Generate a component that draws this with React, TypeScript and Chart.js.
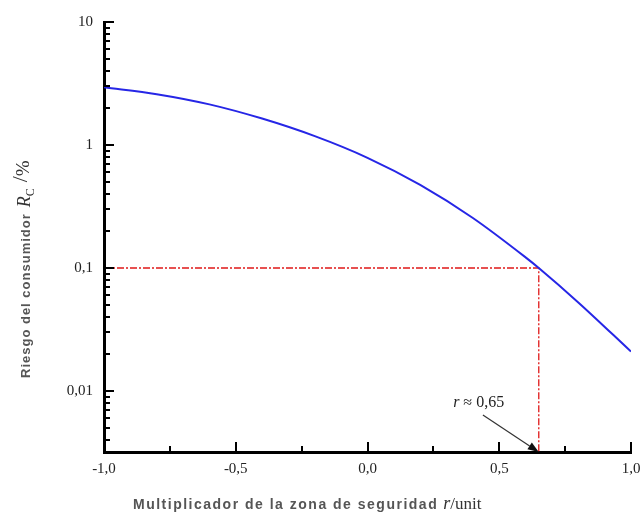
import React, { useEffect, useRef } from 'react';
import { Chart, registerables } from 'chart.js';

Chart.register(...registerables);

// Safety-zone multiplier r (unit) and consumer risk R_C (%)
const rValues = [-1.0, -0.8, -0.6, -0.4, -0.2, 0.0, 0.2, 0.4, 0.6, 0.65, 0.8, 1.0];
const rcValues = [2.95, 2.59, 2.14, 1.64, 1.18, 0.787, 0.474, 0.255, 0.122, 0.1, 0.0525, 0.0209];

const thresholdR = 0.65;
const thresholdRc = 0.1;

const xTickValues = [-1, -0.5, 0, 0.5, 1];
const xMinorValues = [-0.75, -0.25, 0.25, 0.75];
const yTickValues = [0.01, 0.1, 1, 10];

const xMin = -1;
const xMax = 1;
const yMin = 0.00319;
const yMax = 10;

const yTitleMain = 'Riesgo del consumidor';
const xTitleMain = 'Multiplicador de la zona de seguridad';
const annotationValue = ' \u2248 0,65';

export default function App() {
  const ref = useRef<HTMLCanvasElement>(null);

  useEffect(() => {
    const canvas = ref.current;
    if (!canvas) return;

    const axisTicks = {
      id: 'axisTicks',
      afterDatasetsDraw(chart: any) {
        const ctx = chart.ctx;
        const xs = chart.scales.x;
        const ys = chart.scales.y;
        const area = chart.chartArea;
        ctx.save();
        ctx.strokeStyle = '#000';
        ctx.lineWidth = 2;
        const drawX = (v: number, len: number) => {
          const px = Math.round(xs.getPixelForValue(v));
          ctx.beginPath();
          ctx.moveTo(px, area.bottom);
          ctx.lineTo(px, area.bottom - len);
          ctx.stroke();
        };
        xTickValues.forEach((v) => drawX(v, 10));
        xMinorValues.forEach((v) => drawX(v, 6));
        for (let d = -3; d <= 1; d++) {
          for (let m = 1; m <= 9; m++) {
            const v = m * Math.pow(10, d);
            if (v < yMin * 0.999 || v > yMax * 1.001) continue;
            const py = Math.round(ys.getPixelForValue(v));
            const len = m === 1 ? 10 : 6;
            ctx.beginPath();
            ctx.moveTo(area.left, py);
            ctx.lineTo(area.left + len, py);
            ctx.stroke();
          }
        }
        ctx.restore();
      },
    };

    const texts = {
      id: 'texts',
      afterDraw(chart: any) {
        const ctx = chart.ctx;
        const xs = chart.scales.x;
        const ys = chart.scales.y;

        // Y title (rotated)
        ctx.save();
        ctx.translate(30, 378);
        ctx.rotate(-Math.PI / 2);
        ctx.textBaseline = 'alphabetic';
        let t = 0;
        ctx.font = 'bold 13px "Liberation Sans", Arial, sans-serif';
        (ctx as any).letterSpacing = '1px';
        ctx.fillStyle = '#555';
        ctx.fillText(yTitleMain, t, 0);
        t += ctx.measureText(yTitleMain).width + 6;
        (ctx as any).letterSpacing = '0px';
        ctx.fillStyle = '#333';
        ctx.font = 'italic 18px "Liberation Serif", serif';
        ctx.fillText('R', t, 0);
        t += ctx.measureText('R').width;
        ctx.font = '12px "Liberation Serif", serif';
        ctx.fillText('C', t, 4);
        t += ctx.measureText('C').width + 6;
        ctx.font = '22px "Liberation Serif", serif';
        ctx.fillText('/', t, -3);
        t += ctx.measureText('/').width;
        ctx.font = '19px "Liberation Serif", serif';
        ctx.fillText('%', t, -1);
        ctx.restore();

        // X title
        ctx.save();
        let x = 133;
        const base = 509;
        ctx.font = 'bold 14px "Liberation Sans", Arial, sans-serif';
        (ctx as any).letterSpacing = '1.5px';
        ctx.fillStyle = '#555';
        ctx.fillText(xTitleMain, x, base);
        x += ctx.measureText(xTitleMain).width + 5;
        (ctx as any).letterSpacing = '0px';
        ctx.fillStyle = '#333';
        ctx.font = 'italic 18px "Liberation Serif", serif';
        ctx.fillText('r', x, base);
        x += ctx.measureText('r').width;
        ctx.font = '17px "Liberation Serif", serif';
        ctx.fillText('/unit', x, base);
        ctx.restore();

        // Annotation r ≈ 0,65 with arrow
        ctx.save();
        const tx = xs.getPixelForValue(0.325);
        const ty = ys.getPixelForValue(0.0083) + 6;
        ctx.fillStyle = '#222';
        ctx.font = 'italic 16px "Liberation Serif", serif';
        ctx.fillText('r', tx, ty);
        const rw = ctx.measureText('r').width;
        ctx.font = '16px "Liberation Serif", serif';
        ctx.fillText(annotationValue, tx + rw, ty);

        const x0 = xs.getPixelForValue(0.438);
        const y0 = ys.getPixelForValue(0.00638);
        const x1 = xs.getPixelForValue(thresholdR);
        const y1 = ys.getPixelForValue(yMin);
        const ang = Math.atan2(y1 - y0, x1 - x0);
        const hl = 11;
        const hw = 4;
        const bx = x1 - hl * Math.cos(ang);
        const by = y1 - hl * Math.sin(ang);
        ctx.strokeStyle = '#333';
        ctx.lineWidth = 1.2;
        ctx.beginPath();
        ctx.moveTo(x0, y0);
        ctx.lineTo(bx, by);
        ctx.stroke();
        ctx.fillStyle = '#111';
        ctx.beginPath();
        ctx.moveTo(x1, y1);
        ctx.lineTo(bx + hw * Math.sin(ang), by - hw * Math.cos(ang));
        ctx.lineTo(bx - hw * Math.sin(ang), by + hw * Math.cos(ang));
        ctx.closePath();
        ctx.fill();
        ctx.restore();
      },
    };

    const chart = new Chart(canvas, {
      type: 'line',
      data: {
        datasets: [
          {
            data: rValues.map((r, i) => ({ x: r, y: rcValues[i] })),
            borderColor: '#2626e6',
            borderWidth: 2,
            pointRadius: 0,
            cubicInterpolationMode: 'monotone',
            fill: false,
          },
          {
            data: [
              { x: xMin, y: thresholdRc },
              { x: thresholdR, y: thresholdRc },
              { x: thresholdR, y: yMin },
            ],
            borderColor: '#e01818',
            borderWidth: 1.3,
            borderDash: [7, 2, 2, 2],
            pointRadius: 0,
            tension: 0,
            fill: false,
          },
        ],
      },
      options: {
        responsive: false,
        animation: false,
        layout: { padding: { top: 22, right: 11, left: 0, bottom: 0 } },
        plugins: { legend: { display: false }, tooltip: { enabled: false } },
        scales: {
          x: {
            type: 'linear',
            min: xMin,
            max: xMax,
            afterBuildTicks: (s: any) => {
              s.ticks = xTickValues.map((v) => ({ value: v }));
            },
            afterFit: (s: any) => {
              s.height = 61;
              s.paddingLeft = 0;
              s.paddingRight = 0;
            },
            ticks: {
              callback: (v: any) => Number(v).toFixed(1).replace('.', ','),
              font: { family: '"Liberation Serif", serif', size: 15 },
              color: '#222',
              padding: 8,
              maxRotation: 0,
              autoSkip: false,
            },
            grid: { display: false, drawTicks: false },
            border: { display: true, color: '#000', width: 3 },
          },
          y: {
            type: 'logarithmic',
            min: yMin,
            max: yMax,
            afterBuildTicks: (s: any) => {
              s.ticks = yTickValues.map((v) => ({ value: v }));
            },
            afterFit: (s: any) => {
              s.width = 104;
            },
            ticks: {
              callback: (v: any) => String(v).replace('.', ','),
              font: { family: '"Liberation Serif", serif', size: 15 },
              color: '#222',
              padding: 11,
              autoSkip: false,
            },
            grid: { display: false, drawTicks: false },
            border: { display: true, color: '#000', width: 3 },
          },
        },
      },
      plugins: [axisTicks, texts],
    } as any);

    return () => chart.destroy();
  }, []);

  return (
    <canvas
      ref={ref}
      width={642}
      height={513}
      style={{ position: 'fixed', left: 0, top: 0, display: 'block' }}
    />
  );
}
